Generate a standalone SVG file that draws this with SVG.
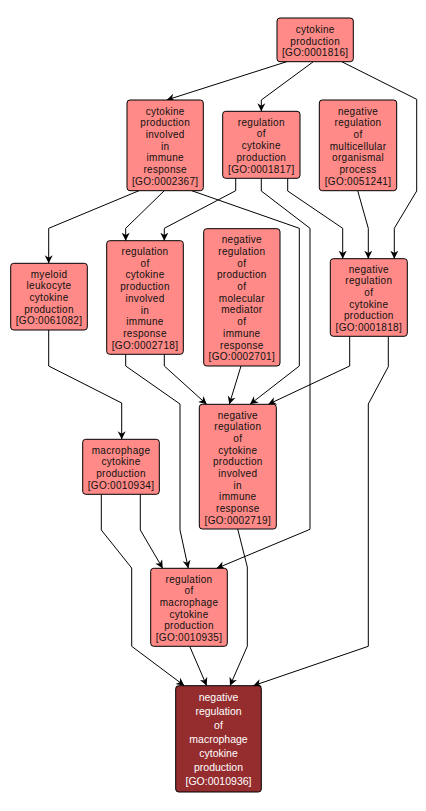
<svg xmlns="http://www.w3.org/2000/svg" width="426" height="811" viewBox="0 0 426 811">
<style>
.n rect{fill:#ff8a87;stroke:#000;stroke-width:1}
.n text{font-family:"Liberation Sans",Arial,sans-serif;font-size:10px;letter-spacing:0.3px;fill:#111;text-anchor:middle}
.d rect{fill:#952d2f;stroke:#000;stroke-width:1}
.d text{font-family:"Liberation Sans",Arial,sans-serif;font-size:10.5px;fill:#fff;text-anchor:middle}
.e path{fill:none;stroke:#000;stroke-width:1;marker-end:url(#a)}
</style>
<defs>
<marker id="a" viewBox="0 0 10 10" refX="10" refY="5" markerWidth="8" markerHeight="9" markerUnits="userSpaceOnUse" orient="auto">
<path d="M0,0 L10,5 L0,10 L3,5 z" fill="#000"/>
</marker>
</defs>
<rect width="426" height="811" fill="#fff"/>
<g class="e">
<path d="M286.7,61.7 L166.7,100"/>
<path d="M313.3,61.7 L261.3,100 L261.3,111.3"/>
<path d="M341.7,61.7 L416.7,99.3 L416.7,191 L394.3,228.3 L394.3,258.7"/>
<path d="M357.7,190.7 L368.3,228.3 L368.3,258.7"/>
<path d="M287.7,178.3 L287.7,191 L342.7,228.3 L342.7,258.7"/>
<path d="M261.3,178.3 L261.3,191 L310,228.3 L310,529.3 L216.7,568.3"/>
<path d="M235.7,178.3 L235.7,190.7 L164.3,228.3 L164.3,240.7"/>
<path d="M191.7,190.7 L299.3,228.3 L299.3,366 L250,404.3"/>
<path d="M139,190.7 L48.7,228.3 L48.7,263.3"/>
<path d="M164.3,190.7 L125.7,228.3 L125.7,240.7"/>
<path d="M349.7,336.3 L349.7,366 L268.3,404.3"/>
<path d="M388.3,336.3 L388.3,366.7 L368.3,404 L368.3,646.3 L253.3,685.7"/>
<path d="M164.3,354.3 L164.3,366 L206.7,404.3"/>
<path d="M125.7,354.3 L125.7,366 L180,404 L180,530 L188.3,568.3"/>
<path d="M241,366 L229.3,404.3"/>
<path d="M48.7,330 L48.7,366 L121.7,403 L121.7,439.3"/>
<path d="M140.3,494.3 L140.3,530 L162.7,568.3"/>
<path d="M101.3,494.3 L101.3,530 L131.7,568 L131.7,646.3 L184.3,685.7"/>
<path d="M237.7,529 L247.3,567 L247.3,646.3 L230,685.7"/>
<path d="M189.7,646.3 L206.7,685.7"/>
</g>
<g id="GO0001816" class="n"><rect x="277" y="18" width="76.3" height="43.7" rx="3"/>
<text y="32.9"><tspan x="315.2">cytokine</tspan><tspan x="315.2" dy="11.7">production</tspan><tspan x="315.2" dy="11.7">[GO:0001816]</tspan></text></g>
<g id="GO0002367" class="n"><rect x="127" y="100" width="76.3" height="90.7" rx="3"/>
<text y="114.5"><tspan x="165.2">cytokine</tspan><tspan x="165.2" dy="11.7">production</tspan><tspan x="165.2" dy="11.7">involved</tspan><tspan x="165.2" dy="11.7">in</tspan><tspan x="165.2" dy="11.7">immune</tspan><tspan x="165.2" dy="11.7">response</tspan><tspan x="165.2" dy="11.7">[GO:0002367]</tspan></text></g>
<g id="GO0001817" class="n"><rect x="222.7" y="111.3" width="77.3" height="67" rx="3"/>
<text y="125.7"><tspan x="261.3">regulation</tspan><tspan x="261.3" dy="11.7">of</tspan><tspan x="261.3" dy="11.7">cytokine</tspan><tspan x="261.3" dy="11.7">production</tspan><tspan x="261.3" dy="11.7">[GO:0001817]</tspan></text></g>
<g id="GO0051241" class="n"><rect x="319.3" y="100" width="77.4" height="90.7" rx="3"/>
<text y="114.6"><tspan x="358">negative</tspan><tspan x="358" dy="11.7">regulation</tspan><tspan x="358" dy="11.7">of</tspan><tspan x="358" dy="11.7">multicellular</tspan><tspan x="358" dy="11.7">organismal</tspan><tspan x="358" dy="11.7">process</tspan><tspan x="358" dy="11.7">[GO:0051241]</tspan></text></g>
<g id="GO0061082" class="n"><rect x="10.7" y="263.3" width="76.6" height="66.7" rx="3"/>
<text y="277.5"><tspan x="49">myeloid</tspan><tspan x="49" dy="11.7">leukocyte</tspan><tspan x="49" dy="11.7">cytokine</tspan><tspan x="49" dy="11.7">production</tspan><tspan x="49" dy="11.7">[GO:0061082]</tspan></text></g>
<g id="GO0002718" class="n"><rect x="106.7" y="240.7" width="76.6" height="113.6" rx="3"/>
<text y="255"><tspan x="145">regulation</tspan><tspan x="145" dy="11.7">of</tspan><tspan x="145" dy="11.7">cytokine</tspan><tspan x="145" dy="11.7">production</tspan><tspan x="145" dy="11.7">involved</tspan><tspan x="145" dy="11.7">in</tspan><tspan x="145" dy="11.7">immune</tspan><tspan x="145" dy="11.7">response</tspan><tspan x="145" dy="11.7">[GO:0002718]</tspan></text></g>
<g id="GO0002701" class="n"><rect x="203.7" y="228.7" width="76.3" height="137.3" rx="3"/>
<text y="243.2"><tspan x="241.8">negative</tspan><tspan x="241.8" dy="11.7">regulation</tspan><tspan x="241.8" dy="11.7">of</tspan><tspan x="241.8" dy="11.7">production</tspan><tspan x="241.8" dy="11.7">of</tspan><tspan x="241.8" dy="11.7">molecular</tspan><tspan x="241.8" dy="11.7">mediator</tspan><tspan x="241.8" dy="11.7">of</tspan><tspan x="241.8" dy="11.7">immune</tspan><tspan x="241.8" dy="11.7">response</tspan><tspan x="241.8" dy="11.7">[GO:0002701]</tspan></text></g>
<g id="GO0001818" class="n"><rect x="330.3" y="258.7" width="77" height="77.6" rx="3"/>
<text y="272.6"><tspan x="368.8">negative</tspan><tspan x="368.8" dy="11.7">regulation</tspan><tspan x="368.8" dy="11.7">of</tspan><tspan x="368.8" dy="11.7">cytokine</tspan><tspan x="368.8" dy="11.7">production</tspan><tspan x="368.8" dy="11.7">[GO:0001818]</tspan></text></g>
<g id="GO0002719" class="n"><rect x="199.3" y="404.3" width="77" height="124.7" rx="3"/>
<text y="418.5"><tspan x="237.8">negative</tspan><tspan x="237.8" dy="11.7">regulation</tspan><tspan x="237.8" dy="11.7">of</tspan><tspan x="237.8" dy="11.7">cytokine</tspan><tspan x="237.8" dy="11.7">production</tspan><tspan x="237.8" dy="11.7">involved</tspan><tspan x="237.8" dy="11.7">in</tspan><tspan x="237.8" dy="11.7">immune</tspan><tspan x="237.8" dy="11.7">response</tspan><tspan x="237.8" dy="11.7">[GO:0002719]</tspan></text></g>
<g id="GO0010934" class="n"><rect x="82.7" y="439.3" width="76.6" height="55" rx="3"/>
<text y="453.6"><tspan x="121">macrophage</tspan><tspan x="121" dy="11.7">cytokine</tspan><tspan x="121" dy="11.7">production</tspan><tspan x="121" dy="11.7">[GO:0010934]</tspan></text></g>
<g id="GO0010935" class="n"><rect x="150.7" y="568.3" width="76.6" height="78" rx="3"/>
<text y="582.5"><tspan x="189">regulation</tspan><tspan x="189" dy="11.7">of</tspan><tspan x="189" dy="11.7">macrophage</tspan><tspan x="189" dy="11.7">cytokine</tspan><tspan x="189" dy="11.7">production</tspan><tspan x="189" dy="11.7">[GO:0010935]</tspan></text></g>
<g id="GO0010936" class="d"><rect x="175.7" y="685.7" width="85.6" height="106.3" rx="3"/>
<text y="701.1"><tspan x="218.5">negative</tspan><tspan x="218.5" dy="14">regulation</tspan><tspan x="218.5" dy="14">of</tspan><tspan x="218.5" dy="14">macrophage</tspan><tspan x="218.5" dy="14">cytokine</tspan><tspan x="218.5" dy="14">production</tspan><tspan x="218.5" dy="14">[GO:0010936]</tspan></text></g>
</svg>
